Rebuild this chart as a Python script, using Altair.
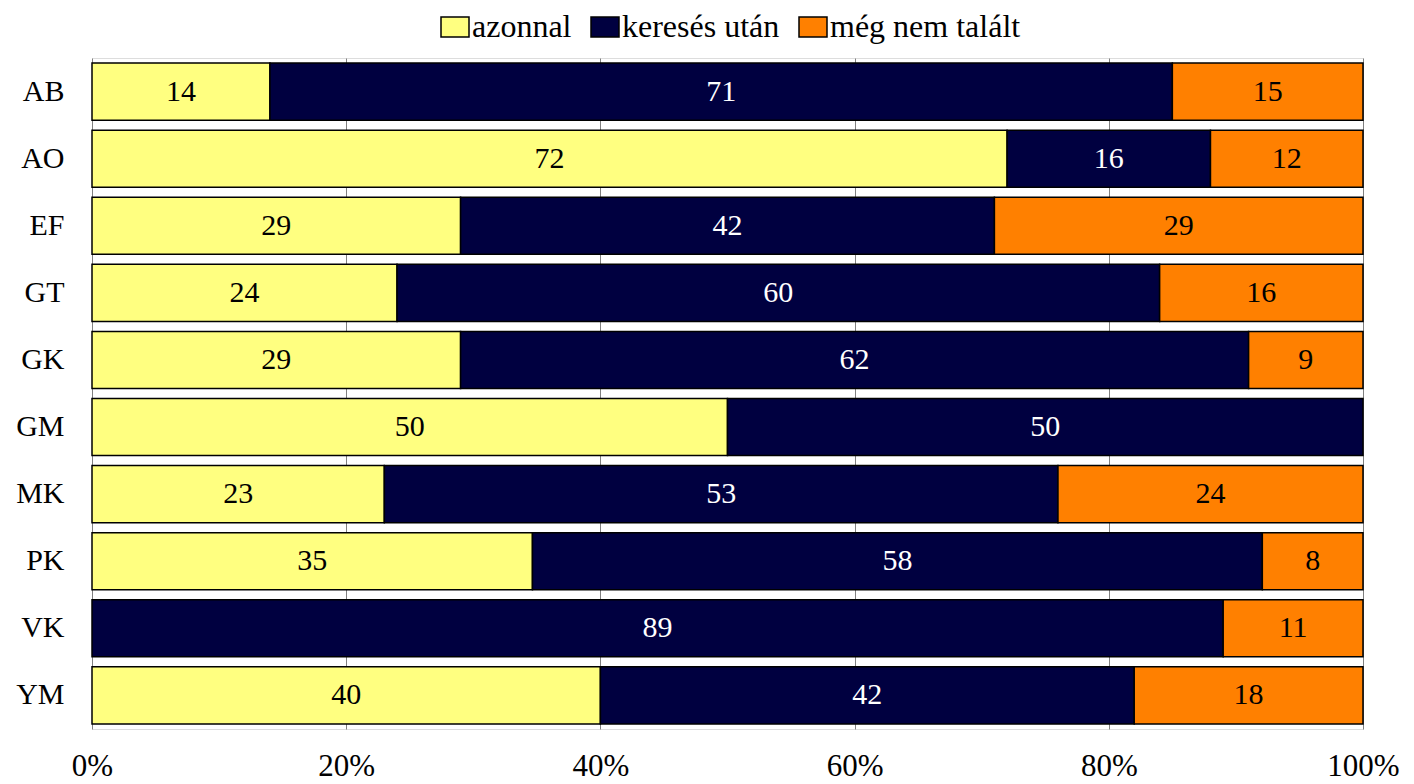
import altair as alt
import pandas as pd

categories = ["AB", "AO", "EF", "GT", "GK", "GM", "MK", "PK", "VK", "YM"]
series = ["azonnal", "keresés után", "még nem talált"]
azonnal = [14, 72, 29, 24, 29, 50, 23, 35, 0, 40]
kereses_utan = [71, 16, 42, 60, 62, 50, 53, 58, 89, 42]
meg_nem_talalt = [15, 12, 29, 16, 9, 0, 24, 8, 11, 18]
bar_colors = ["#FFFF80", "#000040", "#FF8000"]
text_colors = ["black", "white", "black"]
tick_values = [0, 0.2, 0.4, 0.6, 0.8, 1.0]

rows = []
for i, c in enumerate(categories):
    for j, vals in enumerate([azonnal, kereses_utan, meg_nem_talalt]):
        rows.append({"cat": c, "series": series[j], "order": j,
                     "value": vals[i], "tc": text_colors[j]})
df = pd.DataFrame(rows)

FONT = "Liberation Serif"

base = (
    alt.Chart(df)
    .transform_filter("datum.value > 0")
    .transform_stack(
        stack="value",
        groupby=["cat"],
        as_=["v0", "v1"],
        offset="normalize",
        sort=[alt.SortField("order", "ascending")],
    )
    .transform_calculate(mid="(datum.v0 + datum.v1) / 2")
)

y_enc = alt.Y(
    "cat:N",
    sort=categories,
    title=None,
    scale=alt.Scale(paddingInner=0.149, paddingOuter=0.075),
    axis=alt.Axis(
        domain=False, ticks=False, labelFont=FONT, labelFontSize=30,
        labelColor="black", labelPadding=28,
    ),
)

x_axis = alt.Axis(
    format="%", values=tick_values, grid=True, gridColor="#808080",
    gridWidth=1, domain=False, ticks=False, labelFont=FONT,
    labelFontSize=31, labelColor="black", labelPadding=22, labelFlush=False,
)

bars = base.mark_bar(stroke="black", strokeWidth=1.5).encode(
    x=alt.X("v0:Q", title=None, scale=alt.Scale(domain=[0, 1], nice=False), axis=x_axis),
    x2="v1:Q",
    y=y_enc,
    color=alt.Color(
        "series:N",
        scale=alt.Scale(domain=series, range=bar_colors),
        legend=alt.Legend(
            title=None, orient="none", direction="horizontal",
            legendX=347, legendY=-47,
            symbolType="M-1.4,-1L1.4,-1L1.4,1L-1.4,1Z", symbolSize=400,
            symbolStrokeColor="black", symbolStrokeWidth=1.5,
            labelFont=FONT, labelFontSize=32, labelColor="black",
            labelOffset=1, columnPadding=16, labelLimit=500,
        ),
    ),
    order=alt.Order("order:Q"),
)

labels = base.mark_text(font=FONT, fontSize=30, baseline="middle", align="center").encode(
    x=alt.X("mid:Q", axis=x_axis),
    y=y_enc,
    text=alt.Text("value:Q"),
    color=alt.Color("tc:N", scale=None),
)

chart = (
    alt.layer(bars, labels)
    .properties(width=1271, height=671,
                padding={"left": 7, "top": 3, "right": 5, "bottom": 5})
    .configure_view(stroke="black", strokeWidth=2)
    .configure(font=FONT)
)

chart.save("out.html", embed_options={"renderer": "svg", "actions": False})
